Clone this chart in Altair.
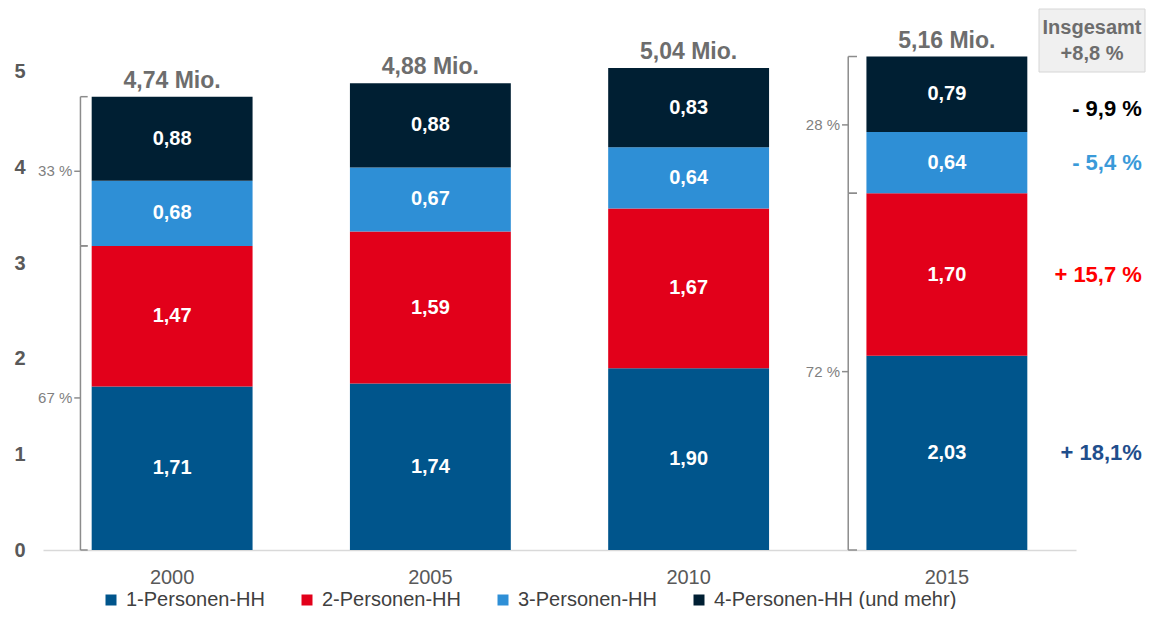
import altair as alt
import pandas as pd

# ---------------- data ----------------
years = ["2000", "2005", "2010", "2015"]
categories = ["1-Personen-HH", "2-Personen-HH", "3-Personen-HH", "4-Personen-HH (und mehr)"]
hh1 = [1.71, 1.74, 1.90, 2.03]
hh2 = [1.47, 1.59, 1.67, 1.70]
hh3 = [0.68, 0.67, 0.64, 0.64]
hh4 = [0.88, 0.88, 0.83, 0.79]
totals = [4.74, 4.88, 5.04, 5.16]
total_labels = ["4,74 Mio.", "4,88 Mio.", "5,04 Mio.", "5,16 Mio."]

bracket_years = ["2000", "2015"]
share_small_hh = ["67 %", "72 %"]   # 1- und 2-Personen-HH
share_large_hh = ["33 %", "28 %"]   # 3- und mehr Personen-HH

change_labels = ["+ 18,1%", "+ 15,7 %", "- 5,4 %", "- 9,9 %"]
overall_change = ["Insgesamt", "+8,8 %"]

y_ticks = [0, 1, 2, 3, 4, 5]

# ---------------- styles ----------------
colors = ["#00558c", "#e2001a", "#2e8fd6", "#001f33"]
change_colors = ["#1f4e8c", "#ff0000", "#3a9ad9", "#000000"]
FONT = "Liberation Sans"
GREY = "#595959"

# ---------------- tables ----------------
series = [hh1, hh2, hh3, hh4]
rows = []
for i, yr in enumerate(years):
    start = 0.0
    for j, cat in enumerate(categories):
        v = series[j][i]
        rows.append({
            "year": yr, "cat": cat, "order": j, "value": v,
            "start": start, "end": start + v, "mid": start + v / 2,
            "label": f"{v:.2f}".replace(".", ","),
        })
        start += v
seg = pd.DataFrame(rows)

tot = pd.DataFrame({"year": years, "total": totals, "label": total_labels})

brk_rows = []
for k, yr in enumerate(bracket_years):
    i = years.index(yr)
    boundary = hh1[i] + hh2[i]
    brk_rows.append({"year": yr, "lo": 0.0, "hi": boundary, "mid": boundary / 2, "label": share_small_hh[k]})
    brk_rows.append({"year": yr, "lo": boundary, "hi": totals[i], "mid": (boundary + totals[i]) / 2,
                     "label": share_large_hh[k]})
brk = pd.DataFrame(brk_rows)

ann = seg[seg["year"] == "2015"].copy()
ann["change"] = change_labels
ann["acat"] = ann["cat"]

x_scale = alt.Scale(domain=years, paddingInner=0, paddingOuter=0)
y_scale = alt.Scale(domain=[0, 5.5], nice=False)

# ---------------- layers ----------------
bars = alt.Chart(seg).mark_bar(width=alt.RelativeBandSize(0.623)).encode(
    x=alt.X("year:N", scale=x_scale, sort=years,
            axis=alt.Axis(title=None, labelFontSize=20, labelColor=GREY, labelAngle=0,
                          ticks=False, domainColor="#d9d9d9", domainWidth=1.5,
                          labelPadding=17, labelFont=FONT)),
    y=alt.Y("start:Q", scale=y_scale,
            axis=alt.Axis(title=None, values=y_ticks, format="d", labelFontSize=20,
                          labelFontWeight="bold", labelColor=GREY, ticks=False, domain=False,
                          grid=False, labelPadding=18, labelFont=FONT)),
    y2="end:Q",
    color=alt.Color("cat:N", scale=alt.Scale(domain=categories, range=colors),
                    legend=alt.Legend(title=None, orient="none", legendX=58, legendY=566,
                                      direction="horizontal", columns=4, symbolType="square",
                                      symbolSize=121, symbolStrokeWidth=0, labelFontSize=20,
                                      labelColor="#404040", labelFont=FONT, labelOffset=5,
                                      columnPadding=32, labelLimit=400)),
    order=alt.Order("order:Q"),
)

seg_text = alt.Chart(seg).mark_text(color="white", fontWeight="bold", fontSize=20,
                                    baseline="middle", font=FONT).encode(
    x="year:N",
    y="mid:Q",
    text="label:N",
)

tot_text = alt.Chart(tot).mark_text(color="#6d6d6d", fontWeight="bold", fontSize=23,
                                    baseline="alphabetic", dy=-9, font=FONT).encode(
    x="year:N",
    y="total:Q",
    text="label:N",
)


def bracket_layers(year, bp, hook, tick):
    d = alt.Chart(brk).transform_filter(alt.datum.year == year)
    st = dict(color="#8c8c8c", strokeWidth=1.5)
    vline = d.mark_rule(**st).encode(
        x=alt.X("year:N", bandPosition=bp),
        y="lo:Q", y2="hi:Q")
    h_lo = d.mark_rule(**st).encode(
        x=alt.X("year:N", bandPosition=bp),
        x2=alt.X2("year:N", bandPosition=bp + hook),
        y="lo:Q")
    h_hi = d.mark_rule(**st).encode(
        x=alt.X("year:N", bandPosition=bp),
        x2=alt.X2("year:N", bandPosition=bp + hook),
        y="hi:Q")
    t_mid = d.mark_rule(**st).encode(
        x=alt.X("year:N", bandPosition=bp - tick),
        x2=alt.X2("year:N", bandPosition=bp),
        y="mid:Q")
    lab = d.mark_text(align="right", baseline="middle", dx=-2, fontSize=15,
                      color="#7f7f7f", font=FONT).encode(
        x=alt.X("year:N", bandPosition=bp - tick),
        y="mid:Q",
        text="label:N")
    return [vline, h_lo, h_hi, t_mid, lab]


brackets = bracket_layers("2000", 0.145, 0.028, 0.024) + bracket_layers("2015", 0.118, 0.034, 0.024)

ann_enc = dict(
    x="year:N",
    y="mid:Q",
    text="change:N",
    color=alt.Color("acat:N", scale=alt.Scale(domain=categories, range=change_colors), legend=None),
)
ann_low = alt.Chart(ann).mark_text(align="right", baseline="middle", dx=195, fontWeight="bold",
                                   fontSize=22, font=FONT).transform_filter(
    alt.datum.order < 3).encode(**ann_enc)
ann_top = alt.Chart(ann).mark_text(align="right", baseline="middle", dx=195, dy=15, fontWeight="bold",
                                   fontSize=22, font=FONT).transform_filter(
    alt.datum.order == 3).encode(**ann_enc)

one = pd.DataFrame({"line1": [overall_change[0]], "line2": [overall_change[1]]})
box = alt.Chart(one).mark_rect(fill="#f0f0f0", stroke="#d6d6d6", strokeWidth=1).encode(
    x=alt.value(996), x2=alt.value(1102), y=alt.value(-15), y2=alt.value(48))
box_t1 = alt.Chart(one).mark_text(fontWeight="bold", fontSize=20, color="#6d6d6d",
                                  baseline="alphabetic", font=FONT).encode(
    x=alt.value(1049), y=alt.value(10), text="line1:N")
box_t2 = alt.Chart(one).mark_text(fontWeight="bold", fontSize=20, color="#6d6d6d",
                                  baseline="alphabetic", font=FONT).encode(
    x=alt.value(1049), y=alt.value(36), text="line2:N")

chart = alt.layer(
    bars, seg_text, tot_text, *brackets, ann_low, ann_top, box, box_t1, box_t2
).resolve_scale(color="independent").properties(
    width=1033, height=526,
    autosize=alt.AutoSizeParams(type="none"),
    padding={"left": 35, "top": 16, "right": 70, "bottom": 59},
).configure(font=FONT).configure_view(stroke=None)

chart.save("out.html", embed_options={"renderer": "svg", "actions": False})
